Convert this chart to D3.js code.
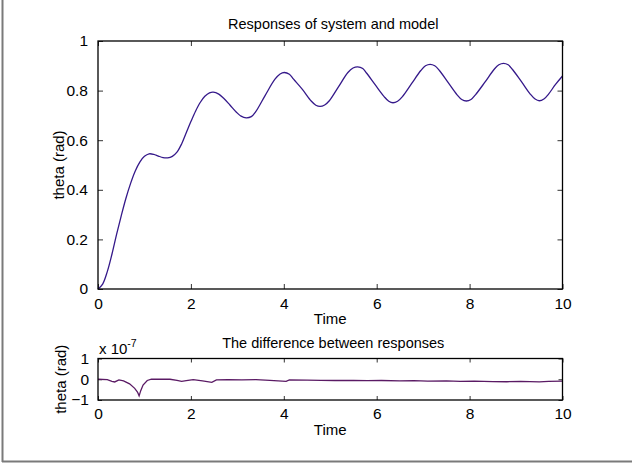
<!DOCTYPE html>
<html>
<head>
<meta charset="utf-8">
<script src="https://cdn.jsdelivr.net/npm/d3@7"></script>
<style>
  body { margin: 0; background: #fff; }
  text { font-family: "Liberation Sans", Arial, sans-serif; fill: #000; }
</style>
</head>
<body>
<script>
// response of system / model (theta, rad)
const timeResp = [0, 0.1, 0.2, 0.3, 0.4, 0.5, 0.6, 0.7, 0.8, 0.9, 1.0, 1.1, 1.2, 1.3, 1.4, 1.5,
    1.6, 1.7, 1.8, 1.9, 2.0, 2.1, 2.2, 2.3, 2.4, 2.48, 2.6, 2.7, 2.84, 2.98, 3.08, 3.19, 3.3, 3.4,
    3.6, 3.81, 3.92, 4.01, 4.12, 4.21, 4.4, 4.59, 4.69, 4.78, 4.88, 4.98, 5.18, 5.38, 5.49, 5.59,
    5.7, 5.78, 5.97, 6.16, 6.26, 6.35, 6.45, 6.55, 6.75, 6.95, 7.05, 7.15, 7.25, 7.35, 7.54, 7.73,
    7.83, 7.93, 8.03, 8.13, 8.33, 8.53, 8.63, 8.73, 8.83, 8.92, 9.12, 9.31, 9.41, 9.5, 9.6, 9.7,
    9.85, 10];
const thetaResp = [0, 0.02, 0.07, 0.14, 0.22, 0.295, 0.365, 0.425, 0.475, 0.512, 0.535, 0.545,
    0.543, 0.536, 0.53, 0.529, 0.535, 0.552, 0.585, 0.63, 0.675, 0.717, 0.752, 0.777, 0.791, 0.794,
    0.786, 0.77, 0.742, 0.713, 0.697, 0.69, 0.695, 0.716, 0.781, 0.846, 0.867, 0.873, 0.866, 0.846,
    0.805, 0.758, 0.741, 0.736, 0.742, 0.759, 0.816, 0.873, 0.891, 0.896, 0.889, 0.871, 0.823, 0.776,
    0.757, 0.751, 0.757, 0.775, 0.828, 0.881, 0.9, 0.906, 0.9, 0.881, 0.832, 0.783, 0.764, 0.758,
    0.764, 0.784, 0.834, 0.886, 0.904, 0.91, 0.904, 0.886, 0.835, 0.785, 0.766, 0.759, 0.766, 0.786,
    0.825, 0.859];

// difference between responses, in units of 1e-7 rad
const timeDiff = [0, 0.2, 0.3, 0.36, 0.45, 0.55, 0.68, 0.79, 0.85, 0.885, 0.92, 0.97, 1.06, 1.15,
    1.55, 1.7, 1.8, 1.9, 2.05, 2.25, 2.45, 2.55, 2.8, 3.1, 3.4, 3.7, 4.05, 4.12, 4.5, 4.8, 5.1, 5.5,
    5.8, 6.1, 6.5, 6.8, 7.1, 7.5, 7.8, 8.1, 8.5, 8.8, 9.1, 9.5, 9.7, 10];
const thetaDiff = [0, -0.02, -0.1, -0.13, -0.03, -0.08, -0.22, -0.44, -0.62, -0.8, -0.55, -0.28,
    -0.06, 0, 0, -0.05, -0.1, -0.07, -0.02, -0.08, -0.15, -0.03, -0.02, -0.03, -0.02, -0.05, -0.1,
    -0.03, -0.04, -0.05, -0.06, -0.05, -0.07, -0.06, -0.08, -0.07, -0.09, -0.08, -0.1, -0.09, -0.11,
    -0.12, -0.1, -0.13, -0.1, -0.09];

const timeTicks = [0, 2, 4, 6, 8, 10];
const respTicks = [0, 0.2, 0.4, 0.6, 0.8, 1];
const diffTicks = [-1, 0, 1];

const W = 632, H = 466;
const svg = d3.select("body").append("svg")
    .attr("width", W)
    .attr("height", H);

svg.append("rect").attr("width", W).attr("height", H).attr("fill", "#fff");

// figure frame (left and bottom edges visible)
svg.append("line").attr("x1", 2.5).attr("x2", 2.5).attr("y1", 0).attr("y2", 462)
    .attr("stroke", "#7a7a7a").attr("stroke-width", 2);
svg.append("line").attr("x1", 2).attr("x2", W).attr("y1", 461.5).attr("y2", 461.5)
    .attr("stroke", "#7a7a7a").attr("stroke-width", 2);

function panel(opt) {
    let x = d3.scaleLinear([0, 10], [opt.left, opt.right]);
    let y = d3.scaleLinear(opt.yDomain, [opt.bottom, opt.top]);
    let g = svg.append("g");
    let ts = opt.tick;

    // inward ticks on all four sides
    g.append("g")
        .attr("transform", `translate(0,${opt.bottom})`)
        .call(d3.axisBottom(x).tickValues(timeTicks).tickSize(-ts).tickPadding(ts + 4).tickFormat(d3.format("d")))
        .call(a => a.select(".domain").remove());
    g.append("g")
        .attr("transform", `translate(0,${opt.top})`)
        .call(d3.axisTop(x).tickValues(timeTicks).tickSize(-ts).tickFormat(""))
        .call(a => a.select(".domain").remove());
    g.append("g")
        .attr("transform", `translate(${opt.left},0)`)
        .call(d3.axisLeft(y).tickValues(opt.yTicks).tickSize(-ts).tickPadding(ts + 5).tickFormat(opt.yFmt))
        .call(a => a.select(".domain").remove());
    g.append("g")
        .attr("transform", `translate(${opt.right},0)`)
        .call(d3.axisRight(y).tickValues(opt.yTicks).tickSize(-ts).tickFormat(""))
        .call(a => a.select(".domain").remove());

    g.selectAll(".tick line").attr("stroke", "#333");
    g.selectAll(".tick text")
        .attr("font-size", 15.5)
        .attr("font-family", "Liberation Sans, Arial, sans-serif")
        .attr("fill", "#000");

    let line = d3.line()
        .x(d => x(d[0]))
        .y(d => y(d[1]))
        .curve(opt.curve);
    g.append("path")
        .datum(opt.xs.map((t, i) => [t, opt.ys[i]]))
        .attr("d", line)
        .attr("fill", "none")
        .attr("stroke", opt.color)
        .attr("stroke-width", 1.3);

    g.append("rect")
        .attr("x", opt.left).attr("y", opt.top)
        .attr("width", opt.right - opt.left)
        .attr("height", opt.bottom - opt.top)
        .attr("fill", "none")
        .attr("stroke", "#000")
        .attr("stroke-width", 1.3);

    let cx = (opt.left + opt.right) / 2;
    g.append("text")
        .attr("x", cx + 3).attr("y", opt.top - opt.titleGap)
        .attr("text-anchor", "middle")
        .attr("font-size", 14.5)
        .text(opt.title);
    g.append("text")
        .attr("x", cx).attr("y", opt.bottom + 35)
        .attr("text-anchor", "middle")
        .attr("font-size", 15)
        .text("Time");
    g.append("text")
        .attr("transform", `translate(${opt.ylabX},${(opt.top + opt.bottom) / 2}) rotate(-90)`)
        .attr("text-anchor", "middle")
        .attr("font-size", 15)
        .text("theta (rad)");
    return g;
}

panel({
    left: 98, right: 562.5, top: 41, bottom: 289,
    yDomain: [0, 1], yTicks: respTicks, yFmt: d => d === 0 || d === 1 ? d3.format("d")(d) : d3.format(".1f")(d),
    xs: timeResp, ys: thetaResp, color: "#35198a", curve: d3.curveCatmullRom,
    tick: 5, title: "Responses of system and model", titleGap: 12, ylabX: 64
});

let lower = panel({
    left: 98, right: 562.5, top: 358.5, bottom: 400,
    yDomain: [-1, 1], yTicks: diffTicks, yFmt: d3.format("d"),
    xs: timeDiff, ys: thetaDiff, color: "#5a1a64", curve: d3.curveLinear,
    tick: 4, title: "The difference between responses", titleGap: 11, ylabX: 66
});

// exponent label of the lower y axis
let expo = lower.append("text")
    .attr("x", 99).attr("y", 354)
    .attr("font-size", 15);
expo.append("tspan").text("x 10");
expo.append("tspan").attr("dy", -7).attr("font-size", 10.5).text("-7");
</script>
</body>
</html>
